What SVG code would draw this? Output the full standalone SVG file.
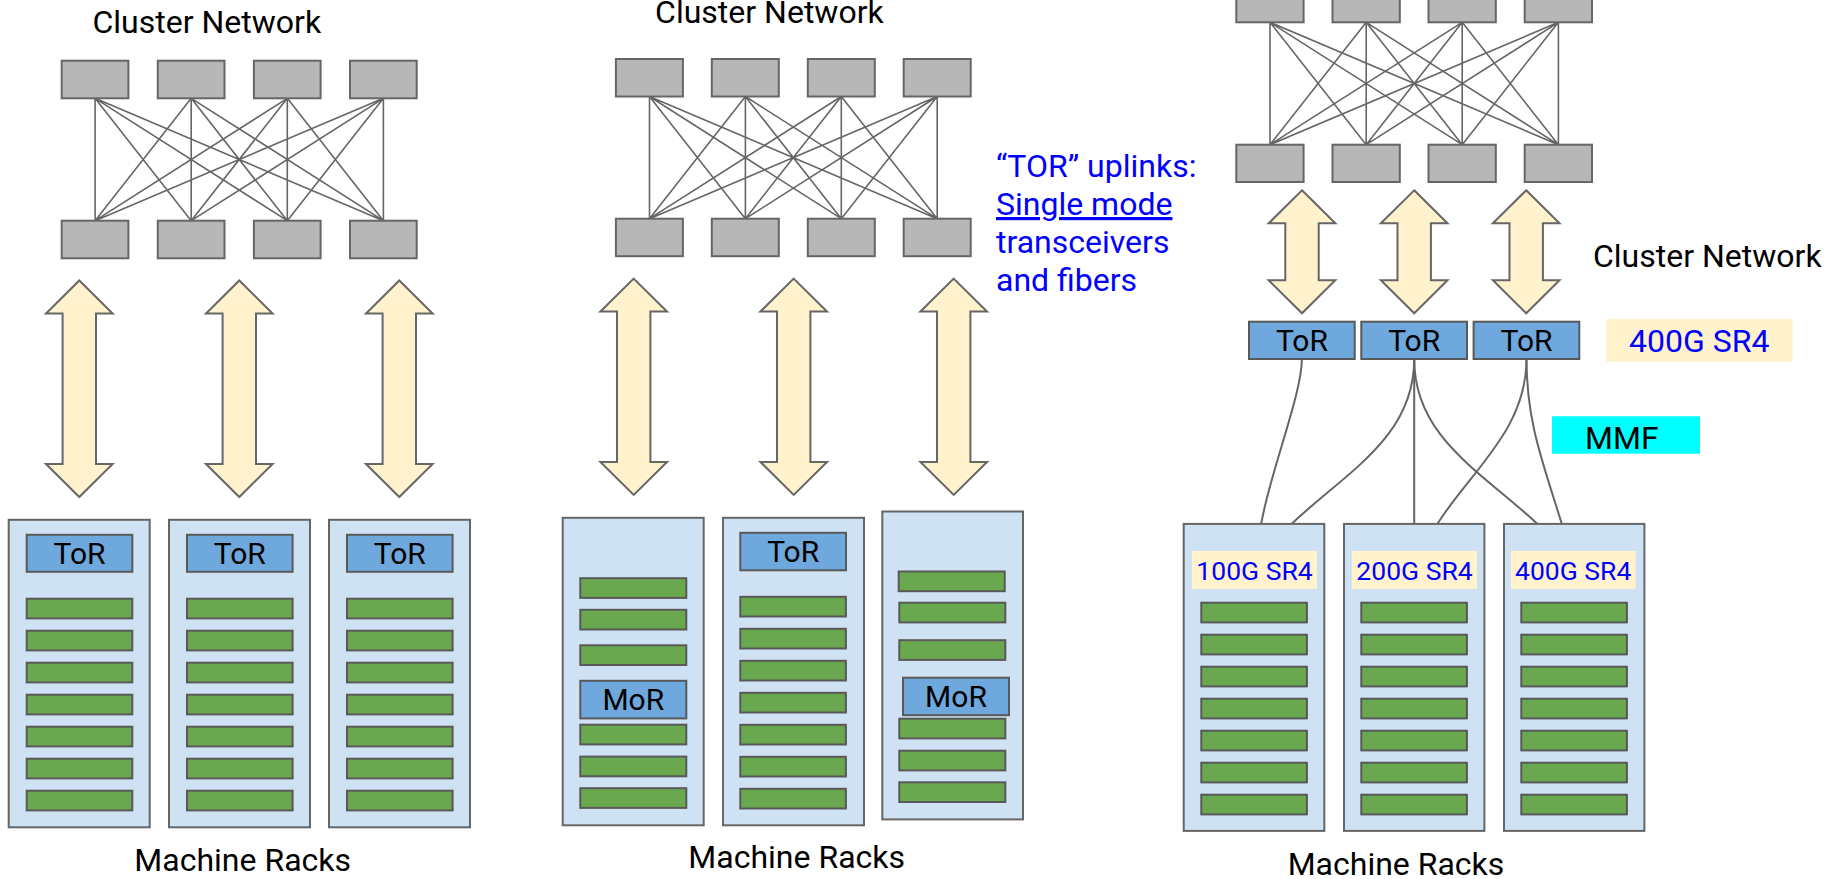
<svg xmlns="http://www.w3.org/2000/svg" width="1827" height="879" viewBox="0 0 1827 879">
  <style>
    .sw { fill: #b7b7b7; stroke: #666666; stroke-width: 2; }
    .mesh { fill: none; stroke: #666666; stroke-width: 1.6; }
    .fiber { fill: none; stroke: #666666; stroke-width: 2; }
    .arrow { fill: #fff2cc; stroke: #666666; stroke-width: 2; stroke-linejoin: miter; }
    .rack { fill: #cfe2f3; stroke: #666666; stroke-width: 2; }
    .tor { fill: #6fa8dc; stroke: #595959; stroke-width: 2; }
    .srv { fill: #6aa84f; stroke: #595959; stroke-width: 2; }
    .tag { fill: #fff2cc; }
    .ttl { font-family: Roboto, "Liberation Sans", sans-serif; font-size: 32px; fill: #000000; }
    .lbl { font-family: Roboto, "Liberation Sans", sans-serif; font-size: 30px; fill: #000000; text-anchor: middle; }
    .blue { font-family: Roboto, "Liberation Sans", sans-serif; font-size: 32px; fill: #0000ff; }
    .sr4 { font-family: Roboto, "Liberation Sans", sans-serif; font-size: 26.5px; fill: #0000ff; text-anchor: middle; }
  </style>
  <defs>
    <g id="srv-stack">
      <rect class="srv" x="0" y="0" width="105.6" height="19.7"/>
      <rect class="srv" x="0" y="32" width="105.6" height="19.7"/>
      <rect class="srv" x="0" y="64" width="105.6" height="19.7"/>
      <rect class="srv" x="0" y="96" width="105.6" height="19.7"/>
      <rect class="srv" x="0" y="128" width="105.6" height="19.7"/>
      <rect class="srv" x="0" y="160" width="105.6" height="19.7"/>
      <rect class="srv" x="0" y="192" width="105.6" height="19.7"/>
    </g>
  </defs>
  <rect x="0" y="0" width="1827" height="879" fill="#ffffff"/>

  <!-- connectors: spine/leaf mesh, uplink arrows, fibers -->
  <g id="connectors">
    <path class="mesh" d="M95.1,98.3 L95.1,220.7 M95.1,98.3 L191.2,220.7 M95.1,98.3 L287.3,220.7 M95.1,98.3 L383.4,220.7 M191.2,98.3 L95.1,220.7 M191.2,98.3 L191.2,220.7 M191.2,98.3 L287.3,220.7 M191.2,98.3 L383.4,220.7 M287.3,98.3 L95.1,220.7 M287.3,98.3 L191.2,220.7 M287.3,98.3 L287.3,220.7 M287.3,98.3 L383.4,220.7 M383.4,98.3 L95.1,220.7 M383.4,98.3 L191.2,220.7 M383.4,98.3 L287.3,220.7 M383.4,98.3 L383.4,220.7"/>
    <path class="mesh" d="M649.5,96.5 L649.5,218.7 M649.5,96.5 L745.4,218.7 M649.5,96.5 L841.3,218.7 M649.5,96.5 L937.2,218.7 M745.4,96.5 L649.5,218.7 M745.4,96.5 L745.4,218.7 M745.4,96.5 L841.3,218.7 M745.4,96.5 L937.2,218.7 M841.3,96.5 L649.5,218.7 M841.3,96.5 L745.4,218.7 M841.3,96.5 L841.3,218.7 M841.3,96.5 L937.2,218.7 M937.2,96.5 L649.5,218.7 M937.2,96.5 L745.4,218.7 M937.2,96.5 L841.3,218.7 M937.2,96.5 L937.2,218.7"/>
    <path class="mesh" d="M1270,22.3 L1270,144.7 M1270,22.3 L1366.2,144.7 M1270,22.3 L1462.2,144.7 M1270,22.3 L1558.4,144.7 M1366.2,22.3 L1270,144.7 M1366.2,22.3 L1366.2,144.7 M1366.2,22.3 L1462.2,144.7 M1366.2,22.3 L1558.4,144.7 M1462.2,22.3 L1270,144.7 M1462.2,22.3 L1366.2,144.7 M1462.2,22.3 L1462.2,144.7 M1462.2,22.3 L1558.4,144.7 M1558.4,22.3 L1270,144.7 M1558.4,22.3 L1366.2,144.7 M1558.4,22.3 L1462.2,144.7 M1558.4,22.3 L1558.4,144.7"/>

    <path class="arrow" d="M79.3,280.5 L112.6,313.5 L96,313.5 L96,464 L112.6,464 L79.3,497 L46,464 L62.6,464 L62.6,313.5 L46,313.5 Z"/>
    <path class="arrow" d="M239.3,280.5 L272.6,313.5 L256,313.5 L256,464 L272.6,464 L239.3,497 L206,464 L222.6,464 L222.6,313.5 L206,313.5 Z"/>
    <path class="arrow" d="M399.3,280.5 L432.6,313.5 L416,313.5 L416,464 L432.6,464 L399.3,497 L366,464 L382.6,464 L382.6,313.5 L366,313.5 Z"/>

    <path class="arrow" d="M633.7,278.6 L667,311.6 L650.4,311.6 L650.4,461.9 L667,461.9 L633.7,494.9 L600.4,461.9 L617,461.9 L617,311.6 L600.4,311.6 Z"/>
    <path class="arrow" d="M793.7,278.6 L827,311.6 L810.4,311.6 L810.4,461.9 L827,461.9 L793.7,494.9 L760.4,461.9 L777,461.9 L777,311.6 L760.4,311.6 Z"/>
    <path class="arrow" d="M953.7,278.6 L987,311.6 L970.4,311.6 L970.4,461.9 L987,461.9 L953.7,494.9 L920.4,461.9 L937,461.9 L937,311.6 L920.4,311.6 Z"/>

    <path class="arrow" d="M1302,190.3 L1335.3,223.3 L1318.7,223.3 L1318.7,280.3 L1335.3,280.3 L1302,313.3 L1268.7,280.3 L1285.3,280.3 L1285.3,223.3 L1268.7,223.3 Z"/>
    <path class="arrow" d="M1414.2,190.3 L1447.5,223.3 L1430.9,223.3 L1430.9,280.3 L1447.5,280.3 L1414.2,313.3 L1380.9,280.3 L1397.5,280.3 L1397.5,223.3 L1380.9,223.3 Z"/>
    <path class="arrow" d="M1526.2,190.3 L1559.5,223.3 L1542.9,223.3 L1542.9,280.3 L1559.5,280.3 L1526.2,313.3 L1492.9,280.3 L1509.5,280.3 L1509.5,223.3 L1492.9,223.3 Z"/>

    <path class="fiber" d="M1301.9,359 C1301.9,400 1258.3,500 1258.3,551"/>
    <path class="fiber" d="M1414.2,359 C1414.2,450 1324,481 1266,551"/>
    <path class="fiber" d="M1414.2,359 L1414.2,551"/>
    <path class="fiber" d="M1414.2,359 C1414.2,450 1504.4,481 1563.3,551"/>
    <path class="fiber" d="M1526.5,359 C1526.5,440 1454.5,481 1422.3,551"/>
    <path class="fiber" d="M1526.5,359 C1526.5,430 1546.8,471 1570,551"/>
    <path class="fiber" d="M1254,588.8 L1254,602.7 M1414.2,588.8 L1414.2,602.7 M1574,588.8 L1574,602.7"/>
  </g>

  <!-- left: ToR per rack -->
  <g id="cluster-a">
    <text class="ttl" x="206.8" y="33" text-anchor="middle">Cluster Network</text>
    <rect class="sw" x="61.7" y="60.7" width="66.7" height="37.6"/>
    <rect class="sw" x="157.8" y="60.7" width="66.7" height="37.6"/>
    <rect class="sw" x="253.9" y="60.7" width="66.7" height="37.6"/>
    <rect class="sw" x="350" y="60.7" width="66.7" height="37.6"/>
    <rect class="sw" x="61.7" y="220.7" width="66.7" height="37.6"/>
    <rect class="sw" x="157.8" y="220.7" width="66.7" height="37.6"/>
    <rect class="sw" x="253.9" y="220.7" width="66.7" height="37.6"/>
    <rect class="sw" x="350" y="220.7" width="66.7" height="37.6"/>
  </g>
  <g id="rack-a1">
    <rect class="rack" x="8.7" y="519.8" width="141" height="307.5"/>
    <rect class="tor" x="26.7" y="534.8" width="105.6" height="37"/>
    <text class="lbl" x="79.5" y="563.5">ToR</text>
    <use href="#srv-stack" x="26.7" y="598.7"/>
  </g>
  <g id="rack-a2">
    <rect class="rack" x="169" y="519.8" width="141" height="307.5"/>
    <rect class="tor" x="187" y="534.8" width="105.6" height="37"/>
    <text class="lbl" x="239.8" y="563.5">ToR</text>
    <use href="#srv-stack" x="187" y="598.7"/>
  </g>
  <g id="rack-a3">
    <rect class="rack" x="329" y="519.8" width="141" height="307.5"/>
    <rect class="tor" x="347" y="534.8" width="105.6" height="37"/>
    <text class="lbl" x="399.8" y="563.5">ToR</text>
    <use href="#srv-stack" x="347" y="598.7"/>
  </g>
  <text class="ttl" x="242.7" y="871" text-anchor="middle">Machine Racks</text>

  <!-- middle: ToR and MoR racks, single mode uplinks -->
  <g id="cluster-b">
    <text class="ttl" x="769.4" y="23" text-anchor="middle">Cluster Network</text>
    <rect class="sw" x="615.9" y="59" width="67" height="37.5"/>
    <rect class="sw" x="711.8" y="59" width="67" height="37.5"/>
    <rect class="sw" x="807.8" y="59" width="67" height="37.5"/>
    <rect class="sw" x="903.7" y="59" width="67" height="37.5"/>
    <rect class="sw" x="615.9" y="218.7" width="67" height="37.5"/>
    <rect class="sw" x="711.8" y="218.7" width="67" height="37.5"/>
    <rect class="sw" x="807.8" y="218.7" width="67" height="37.5"/>
    <rect class="sw" x="903.7" y="218.7" width="67" height="37.5"/>
  </g>
  <g id="uplink-note">
    <text class="blue" x="996" y="177">“TOR” uplinks:</text>
    <text class="blue" x="996" y="215" text-decoration="underline">Single mode</text>
    <text class="blue" x="996" y="253">transceivers</text>
    <text class="blue" x="996" y="291">and fibers</text>
  </g>
  <g id="rack-b1">
    <rect class="rack" x="562.7" y="517.8" width="141" height="307.5"/>
    <rect class="srv" x="580.3" y="578.2" width="106" height="19.7"/>
    <rect class="srv" x="580.3" y="609.8" width="106" height="19.7"/>
    <rect class="srv" x="580.3" y="645.3" width="106" height="19.7"/>
    <rect class="tor" x="580.3" y="680.8" width="106" height="37.6"/>
    <text class="lbl" x="633.3" y="710">MoR</text>
    <rect class="srv" x="580.3" y="724.7" width="106" height="19.7"/>
    <rect class="srv" x="580.3" y="756.6" width="106" height="19.7"/>
    <rect class="srv" x="580.3" y="788.2" width="106" height="19.7"/>
  </g>
  <g id="rack-b2">
    <rect class="rack" x="723" y="517.8" width="141" height="307.5"/>
    <rect class="tor" x="740.3" y="532.8" width="105.7" height="37.5"/>
    <text class="lbl" x="793.2" y="561.5">ToR</text>
    <use href="#srv-stack" x="740.3" y="596.8"/>
  </g>
  <g id="rack-b3">
    <rect class="rack" x="882.3" y="511.5" width="140.7" height="307.9"/>
    <rect class="srv" x="898.7" y="571.5" width="106" height="19.7"/>
    <rect class="srv" x="899.3" y="602.7" width="106" height="19.7"/>
    <rect class="srv" x="899.3" y="640.2" width="106" height="19.7"/>
    <rect class="tor" x="903" y="677.7" width="106" height="37.5"/>
    <text class="lbl" x="956" y="706.5">MoR</text>
    <rect class="srv" x="899.3" y="718.7" width="106" height="19.7"/>
    <rect class="srv" x="899.3" y="750.7" width="106" height="19.7"/>
    <rect class="srv" x="899.3" y="782.3" width="106" height="19.7"/>
  </g>
  <text class="ttl" x="796.7" y="868" text-anchor="middle">Machine Racks</text>

  <!-- right: pooled ToRs with multimode fiber -->
  <g id="cluster-c">
    <rect class="sw" x="1236.3" y="-15" width="67.3" height="37.3"/>
    <rect class="sw" x="1332.5" y="-15" width="67.3" height="37.3"/>
    <rect class="sw" x="1428.5" y="-15" width="67.3" height="37.3"/>
    <rect class="sw" x="1524.7" y="-15" width="67.3" height="37.3"/>
    <rect class="sw" x="1236.3" y="144.7" width="67.3" height="37.3"/>
    <rect class="sw" x="1332.5" y="144.7" width="67.3" height="37.3"/>
    <rect class="sw" x="1428.5" y="144.7" width="67.3" height="37.3"/>
    <rect class="sw" x="1524.7" y="144.7" width="67.3" height="37.3"/>
    <text class="ttl" x="1593" y="266.8">Cluster Network</text>
  </g>
  <g id="tor-c1">
    <rect class="tor" x="1249" y="321.7" width="105.7" height="37.3"/>
    <text class="lbl" x="1301.9" y="350.5">ToR</text>
  </g>
  <g id="tor-c2">
    <rect class="tor" x="1361.3" y="321.7" width="105.7" height="37.3"/>
    <text class="lbl" x="1414.2" y="350.5">ToR</text>
  </g>
  <g id="tor-c3">
    <rect class="tor" x="1473.6" y="321.7" width="105.7" height="37.3"/>
    <text class="lbl" x="1526.5" y="350.5">ToR</text>
  </g>
  <g id="optic-400g">
    <rect class="tag" x="1606" y="319" width="186.6" height="42.7"/>
    <text class="blue" x="1699.3" y="351.7" text-anchor="middle">400G SR4</text>
  </g>
  <g id="mmf">
    <rect x="1552" y="416.3" width="148" height="37.4" fill="#00ffff"/>
    <text class="ttl" x="1585" y="449" font-size="37">MMF</text>
  </g>
  <g id="rack-c1">
    <rect class="rack" x="1183.7" y="523.9" width="140.6" height="307"/>
    <rect class="tag" x="1192" y="551" width="125" height="37.8"/>
    <text class="sr4" x="1254.5" y="580">100G SR4</text>
    <use href="#srv-stack" x="1201.3" y="602.7"/>
  </g>
  <g id="rack-c2">
    <rect class="rack" x="1344" y="523.9" width="140.4" height="307"/>
    <rect class="tag" x="1352" y="551" width="125" height="37.8"/>
    <text class="sr4" x="1414.5" y="580">200G SR4</text>
    <use href="#srv-stack" x="1361.3" y="602.7"/>
  </g>
  <g id="rack-c3">
    <rect class="rack" x="1504" y="523.9" width="140.4" height="307"/>
    <rect class="tag" x="1510.7" y="551" width="125" height="37.8"/>
    <text class="sr4" x="1573.2" y="580">400G SR4</text>
    <use href="#srv-stack" x="1521.3" y="602.7"/>
  </g>
  <text class="ttl" x="1396" y="875" text-anchor="middle">Machine Racks</text>
</svg>
